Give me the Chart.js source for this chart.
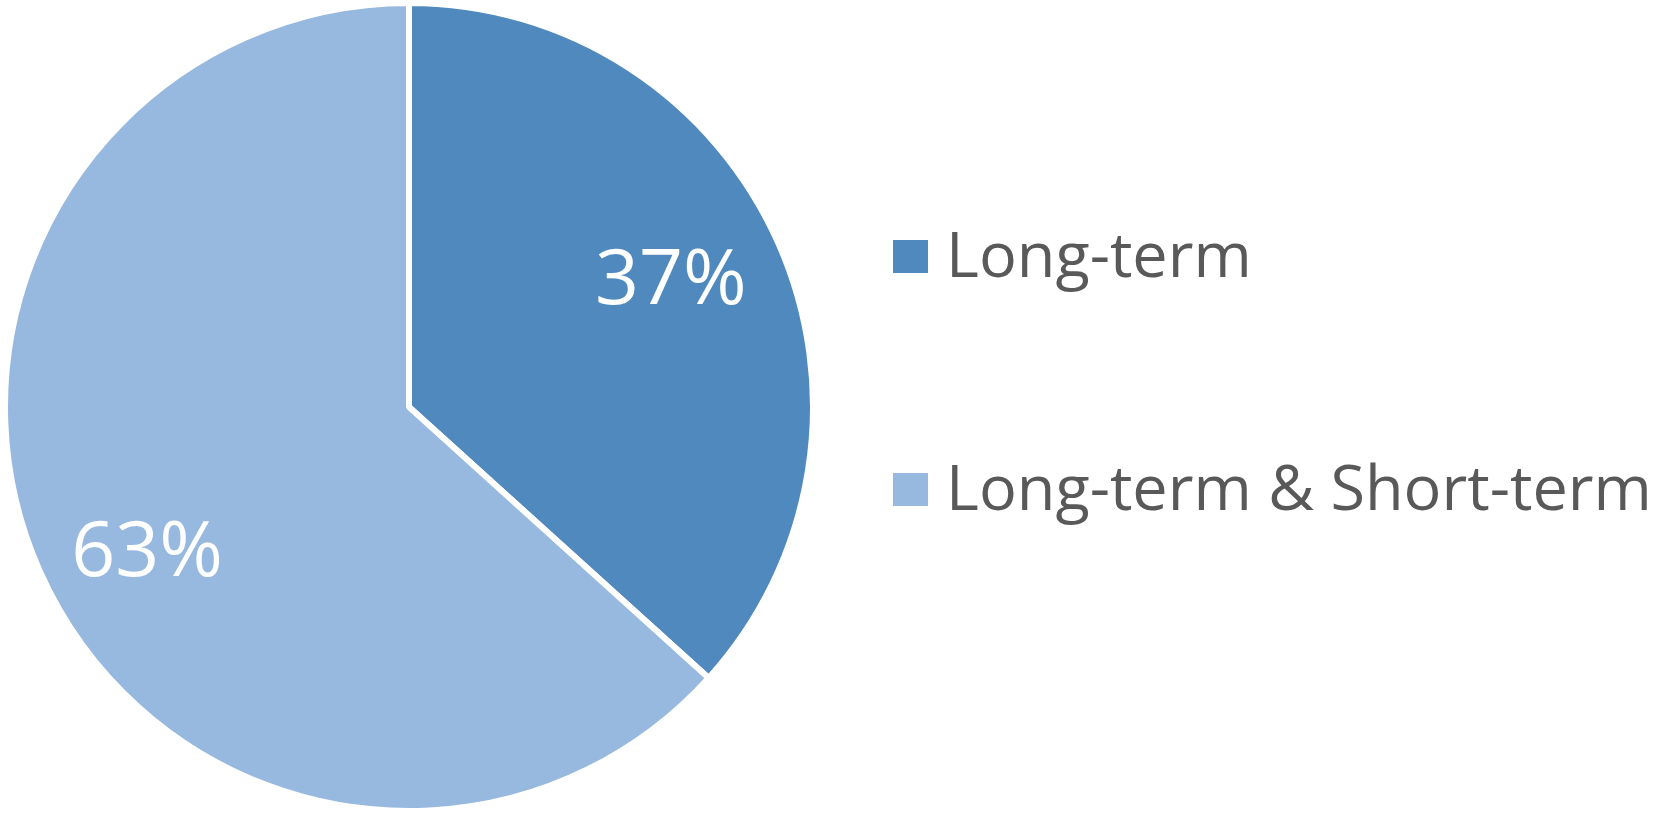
<!DOCTYPE html>
<html>
<head>
<meta charset="utf-8">
<script src="https://cdn.jsdelivr.net/npm/chart.js@4.4.1/dist/chart.umd.min.js"></script>
<style>
  html, body { margin: 0; padding: 0; background: #ffffff; }
  #wrap { width: 1661px; height: 814px; position: relative; }
</style>
</head>
<body>
<div id="wrap"><canvas id="pieChart"></canvas></div>
<script>
const categories = ['Long-term', 'Long-term & Short-term'];
const shares = [36.7, 63.3];
const sliceColors = ['#4F89BD', '#97B9E0'];

// white percent labels inside the slices
const sliceLabels = {
  id: 'sliceLabels',
  afterDatasetsDraw(chart) {
    const ctx = chart.ctx;
    const meta = chart.getDatasetMeta(0);
    const total = shares.reduce((a, b) => a + b, 0);
    ctx.save();
    ctx.fillStyle = '#ffffff';
    ctx.font = '77px "Open Sans"';
    ctx.textAlign = 'center';
    ctx.textBaseline = 'middle';
    meta.data.forEach((arc, i) => {
      const mid = (arc.startAngle + arc.endAngle) / 2 - 0.06;
      const d = arc.outerRadius * 0.73;
      const x = arc.x + Math.cos(mid) * d;
      const y = arc.y + Math.sin(mid) * d + 11;
      ctx.fillText(Math.round(shares[i] / total * 100) + '%', x, y);
    });
    ctx.restore();
  }
};

// legend on the right, drawn from the same labels/colours
const sideLegend = {
  id: 'sideLegend',
  afterDraw(chart) {
    const ctx = chart.ctx;
    const left = chart.chartArea.right + 77;
    const firstMid = 257;
    const step = 233;
    ctx.save();
    ctx.font = '63px "Open Sans"';
    ctx.textBaseline = 'alphabetic';
    ctx.textAlign = 'left';
    categories.forEach((label, i) => {
      const cy = firstMid + i * step;
      ctx.fillStyle = sliceColors[i];
      ctx.fillRect(left, cy - 17, 35, 33);
      ctx.fillStyle = '#595959';
      ctx.fillText(label, left + 53, cy + 20);
    });
    ctx.restore();
  }
};

new Chart(document.getElementById('pieChart'), {
  type: 'pie',
  data: {
    labels: categories,
    datasets: [{
      data: shares,
      backgroundColor: sliceColors,
      borderColor: '#ffffff',
      borderWidth: 6,
      hoverOffset: 0
    }]
  },
  options: {
    responsive: true,
    maintainAspectRatio: false,
    animation: false,
    layout: { padding: { left: 2, right: 845, top: 0, bottom: 0 } },
    plugins: {
      legend: { display: false },
      tooltip: { enabled: false }
    }
  },
  plugins: [sliceLabels, sideLegend]
});
</script>
</body>
</html>
